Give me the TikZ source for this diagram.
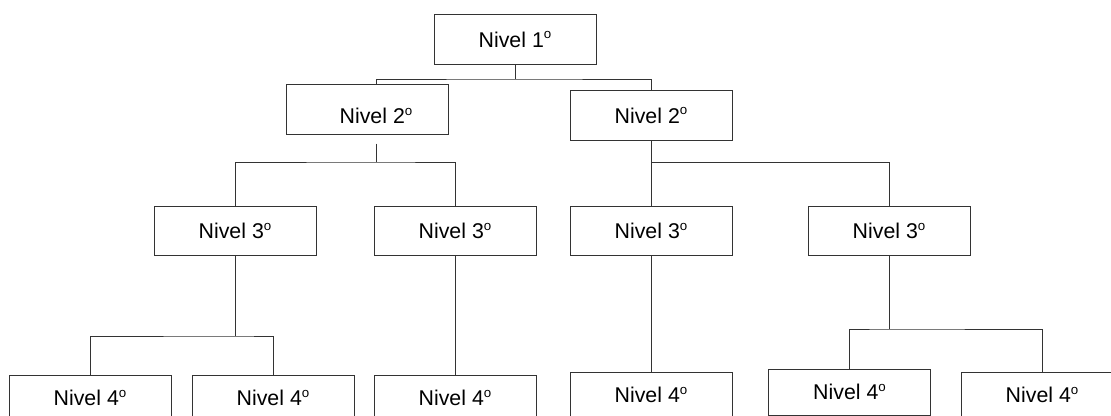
\documentclass[tikz,border=0pt]{standalone}
\usepackage{fontspec}
\setmainfont{Liberation Sans}
\newcommand{\ordo}{\raisebox{6.2pt}{\fontsize{10}{10}\selectfont o}}

\begin{document}
\begin{tikzpicture}[x=0.75pt, y=-0.75pt, line width=0.6pt,
  box/.style={draw=black!80, minimum width=121.5pt, minimum height=37pt, inner sep=0pt},
  lowbox/.style={box, minimum height=34.5pt},
  lbl/.style={inner sep=0pt},
  link/.style={draw=black!80},
  every node/.style={font=\fontsize{16}{19}\selectfont}]
\useasboundingbox (0,0) rectangle (1111,416);

\node[box] (n1) at (515,39.5) {Nivel 1\ordo};

\node[box] (n2a) at (367,109.5) {};
\node[lbl] (t2a) at (376,116) {Nivel 2\ordo};
\node[box] (n2b) at (651,115.5) {Nivel 2\ordo};

\node[box] (n3a) at (235,231) {Nivel 3\ordo};
\node[box] (n3b) at (455,231) {Nivel 3\ordo};
\node[box] (n3c) at (651,231) {Nivel 3\ordo};
\node[box] (n3d) at (889,231) {Nivel 3\ordo};

\node[lowbox] (n4a) at (90,398) {Nivel 4\ordo};
\node[lowbox] (n4b) at (273,398) {Nivel 4\ordo};
\node[lowbox] (n4c) at (455,398) {Nivel 4\ordo};
\node[lowbox] (n4d) at (651,395) {Nivel 4\ordo};
\node[lowbox] (n4e) at (849.5,392) {Nivel 4\ordo};
\node[lowbox] (n4f) at (1042,395) {Nivel 4\ordo};

\coordinate (j1) at (515,79);
\coordinate (j2a) at (376,162);
\coordinate (j2b) at (651,162);
\coordinate (j3a) at (235,336);
\coordinate (j3d) at (889,329);

\draw[link] (n1.south) -- (j1);
\draw[link] (t2a |- n2a.north) |- (j1) -| (n2b.north);

\draw[link] (t2a |- n2a.south) ++(0,9) -- (j2a);
\draw[link] (n3a.north) |- (j2a) -| (n3b.north);
\draw[link] (n2b.south) -- (j2b);
\draw[link] (n3c.north) |- (j2b) -| (n3d.north);

\draw[link] (n3a.south) -- (j3a);
\draw[link] (n4a.north) |- (j3a) -| (n4b.north);
\draw[link] (n3b.south) -- (n4c.north);
\draw[link] (n3c.south) -- (n4d.north);
\draw[link] (n3d.south) -- (j3d);
\draw[link] (n4e.north) |- (j3d) -| (n4f.north);

\end{tikzpicture}
\end{document}
